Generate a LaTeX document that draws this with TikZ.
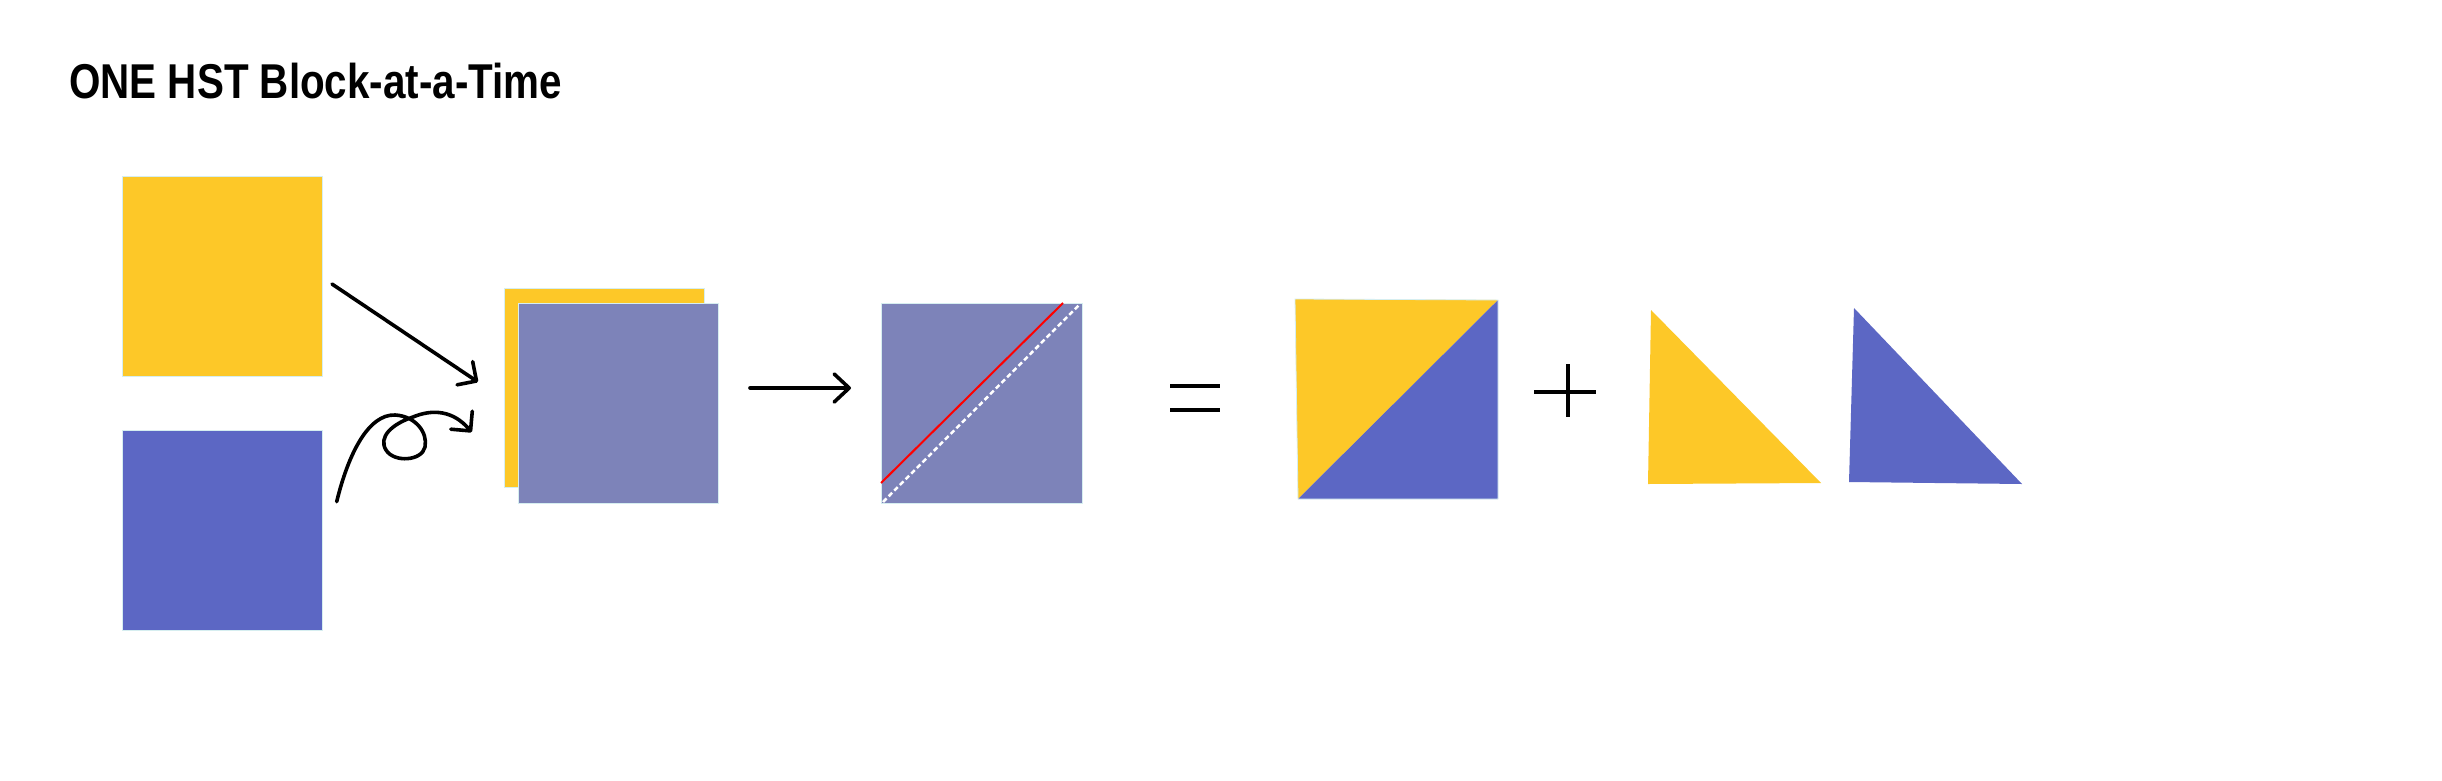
\documentclass[tikz,border=0pt]{standalone}
\usepackage{fontspec}
\setmainfont{Liberation Sans}
\usetikzlibrary{arrows.meta}
\definecolor{yel}{RGB}{253,200,40}
\definecolor{blu}{RGB}{92,103,196}
\definecolor{gblu}{RGB}{125,131,185}
\definecolor{edgec}{RGB}{214,238,240}
\tikzset{
  sq/.style={rectangle, inner sep=0pt, outer sep=0pt, anchor=north west,
    minimum width=200pt, minimum height=200pt, draw=edgec, line width=0.8pt},
  conn/.style={line width=3.6pt, line cap=round, line join=round,
    -{Straight Barb[length=14pt,width=28pt,line join=round,line cap=round]}},
  sym/.style={line width=3.5pt},
  tri/.style={draw=none}
}
\begin{document}
\begin{tikzpicture}[x=1pt,y=-1pt]
\useasboundingbox (0,0) rectangle (2442,780);
\fill[white] (0,0) rectangle (2442,780);
% title
\node[anchor=base west, inner sep=0pt] (title) at (69,98)
  {\scalebox{0.826}[1]{\fontsize{48.9pt}{52pt}\selectfont\bfseries ONE HST Block-at-a-Time}};
% left squares
\node[sq, fill=yel] (ya) at (122,176) {};
\node[sq, fill=blu] (bl) at (122,430) {};
% overlapped squares
\node[sq, fill=yel, minimum height=199pt] (yb) at (504,288) {};
\node[sq, fill=gblu] (gb) at (518,303) {};
% arrows into overlap
\coordinate (a1s) at (332,284);
\coordinate (a1e) at (478,382);
\draw[conn] (a1s) -- (a1e);
\coordinate (a3s) at (336.7,501.7);
\coordinate (a3e) at (471.7,432.3);
\draw[conn] (a3s) .. controls (348,455) and (368,414) .. (395,415)
  .. controls (415,416) and (428,432) .. (425,447)
  .. controls (422,461) and (394,463) .. (386,450)
  .. controls (378,437) and (392,424) .. (413,417)
  .. controls (432,409) and (453,410) .. (a3e);
% middle arrow
\coordinate (a2s) at (750,388);
\coordinate (a2e) at (851,388);
\draw[conn, -{Straight Barb[length=15pt,width=28pt,line join=round,line cap=round]}] (a2s) -- (a2e);
% diagonal square
\node[sq, fill=gblu, minimum width=201pt] (ds) at (881,303) {};
\draw[red, line width=2pt] (881,483) -- (1063,303);
\draw[white, line width=2.5pt, dash pattern=on 5pt off 3pt] (883,502) -- (1080,304);
% equals
\draw[sym] (1170,386) -- (1220,386);
\draw[sym] (1170,410) -- (1220,410);
% split square
\fill[yel] (1295,299) -- (1498,300) -- (1298,499) -- cycle;
\fill[blu] (1498,300) -- (1498,499) -- (1298,499) -- cycle;
\draw[edgec, line width=0.8pt] (1295,299) -- (1498,300) -- (1498,499) -- (1298,499) -- cycle;
% plus
\draw[sym] (1534,392) -- (1596,392);
\draw[sym] (1568,364) -- (1568,417);
% triangles
\fill[yel] (1651,310) -- (1648,484) -- (1821,483) -- cycle;
\fill[blu] (1854,308) -- (1849,482) -- (2022,484) -- cycle;
\end{tikzpicture}
\end{document}
